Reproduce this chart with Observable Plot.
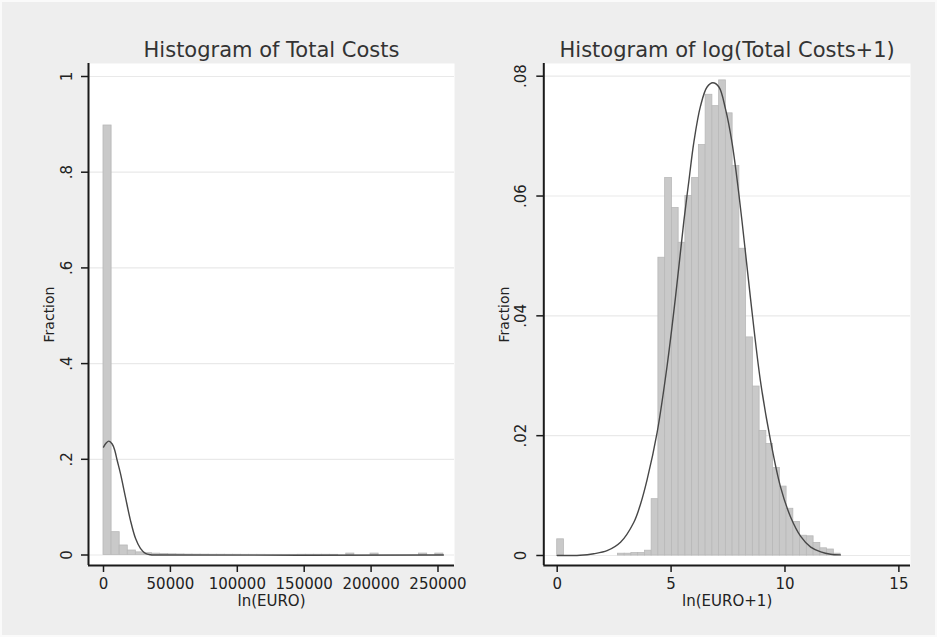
<!DOCTYPE html>
<html><head><meta charset="utf-8">
<script src="https://cdn.jsdelivr.net/npm/d3@7"></script>
<script src="https://cdn.jsdelivr.net/npm/@observablehq/plot@0.6"></script>
<style>
html,body{margin:0;padding:0;background:#fff;}
#wrap{position:relative;width:937px;height:637px;background:#eeeeee;box-shadow:inset 0 0 0 2px #fafafa;overflow:hidden;}
#wrap svg{position:absolute;top:0;}
</style></head><body><div id="wrap"></div>
<script>
// ---------- data ----------
const leftTitle = "Histogram of Total Costs";
const rightTitle = "Histogram of log(Total Costs+1)";
const leftXLabel = "ln(EURO)";
const rightXLabel = "ln(EURO+1)";
const yLabel = "Fraction";

const leftBinWidth = 6048;
const leftFraction = [0.8976, 0.0477, 0.0199, 0.0094, 0.0055, 0.0038, 0.0028, 0.0020, 0.0015, 0.0012,
  0.0009, 0.0008, 0.0007, 0.0006, 0.0006, 0.0005, 0.0005, 0.0004, 0.0004, 0.0004,
  0.0003, 0.0003, 0.0003, 0.0003, 0.0005, 0.0005, 0.0005, 0.0005, 0.0004, 0,
  0.003, 0, 0, 0.003, 0, 0, 0, 0, 0, 0.003, 0, 0.003];

const rightBinWidth = 0.2962;
const rightFraction = [0.0027, 0, 0, 0, 0, 0, 0, 0, 0, 0.0003, 0.0003, 0.0004, 0.0004, 0.0008,
  0.0094, 0.0497, 0.0630, 0.0580, 0.0522, 0.0600, 0.0630, 0.0685, 0.0769, 0.0750, 0.0793,
  0.0738, 0.0650, 0.0512, 0.0364, 0.0282, 0.0208, 0.0186, 0.0146, 0.0115, 0.0078, 0.0056,
  0.0033, 0.0032, 0.0021, 0.0012, 0.0010, 0.0003];

const leftCurveX = [0, 2000, 3960, 6500, 8500, 10200, 12700, 16400, 20100, 23900, 27600, 31300, 35000, 40000, 254000];
const leftCurveY = [0.2256, 0.234, 0.238, 0.232, 0.218, 0.198, 0.170, 0.121, 0.073, 0.035, 0.014, 0.0035, 0.0005, 0, 0];

const rightCurveX = [0, 1.0, 1.61, 2.19, 2.78, 3.36, 3.66, 3.95, 4.39, 4.83, 5.19, 5.56, 5.78, 6.0, 6.29, 6.58, 6.83,
  7.1, 7.39, 7.68, 7.97, 8.27, 8.49, 8.92, 9.36, 9.8, 10.25, 10.69, 11.13, 11.57, 12.0, 12.43];
const rightCurveY = [0, 0.00005, 0.0003, 0.0008, 0.0022, 0.0055, 0.0086, 0.0127, 0.0206, 0.0318, 0.0430, 0.0558, 0.0625,
  0.0690, 0.0750, 0.0782, 0.0789, 0.0782, 0.0745, 0.0688, 0.0605, 0.0504, 0.0428, 0.0292, 0.0193, 0.0115, 0.0064,
  0.0032, 0.0014, 0.0006, 0.0002, 0.0001];

const leftXTicks = [0, 50000, 100000, 150000, 200000, 250000];
const leftYTicks = [0, 0.2, 0.4, 0.6, 0.8, 1];
const leftYTickLabels = ["0", ".2", ".4", ".6", ".8", "1"];
const rightXTicks = [0, 5, 10, 15];
const rightYTicks = [0, 0.02, 0.04, 0.06, 0.08];
const rightYTickLabels = ["0", ".02", ".04", ".06", ".08"];

// ---------- drawing ----------
const FONT = "DejaVu Sans, Verdana, sans-serif";
const INK = "#222";

function panel(o) {
  const bars = o.bins.map((f, i) => ({x1: i * o.binWidth, x2: (i + 1) * o.binWidth, y: f}));
  const curve = o.curveX.map((x, i) => ({x, y: o.curveY[i]}));
  return Plot.plot({
    width: o.width, height: 637,
    marginLeft: o.marginLeft, marginRight: o.marginRight, marginTop: 63, marginBottom: 72,
    x: {domain: o.xDomain}, y: {domain: o.yDomain},
    style: {fontFamily: FONT, fontSize: "15px", background: "transparent", color: INK, overflow: "visible"},
    marks: [
      Plot.frame({fill: "white", stroke: null}),
      Plot.gridY(o.yTicks, {stroke: "#e9e9e9", strokeOpacity: 1, strokeWidth: 1.2}),
      Plot.rectY(bars, {x1: "x1", x2: "x2", y: "y", fill: "#c9c9c9", stroke: "#b8b8b8", strokeWidth: 0.8}),
      Plot.line(curve, {x: "x", y: "y", stroke: "#474747", strokeWidth: 1.4, curve: "catmull-rom"}),
      Plot.ruleX([o.xDomain[0]], {y1: o.yDomain[0], y2: o.yDomain[1], stroke: "#1a1a1a", strokeWidth: 2}),
      Plot.ruleY([o.yDomain[0]], {x1: o.xDomain[0], x2: o.xDomain[1], stroke: "#1a1a1a", strokeWidth: 2}),
      Plot.axisX(o.xTicks, {tickSize: 7, tickPadding: 6, tickFormat: d => String(d), label: null,
        fontSize: 15, strokeWidth: 1.5, stroke: "#1a1a1a", fill: INK}),
      Plot.axisY(o.yTicks, {tickSize: 7, tickFormat: () => "", label: null, strokeWidth: 1.5, stroke: "#1a1a1a"}),
      Plot.text(o.yTicks, {y: d => d, text: (d, i) => o.yTickLabels[i], frameAnchor: "left", dx: o.yLabelDx,
        rotate: -90, lineAnchor: "bottom", textAnchor: "middle", fontSize: 15, fill: INK}),
      Plot.text([yLabel], {text: d => d, frameAnchor: "left", dx: -35, rotate: -90, lineAnchor: "bottom",
        textAnchor: "middle", fontSize: 14, fill: INK}),
      Plot.text([o.title], {text: d => d, frameAnchor: "top", dy: -7, lineAnchor: "bottom", fontSize: 21, fill: "#333"}),
      Plot.text([o.xLabel], {text: d => d, frameAnchor: "bottom", dy: 40, lineAnchor: "bottom", fontSize: 15, fill: INK})
    ]
  });
}

const wrap = document.getElementById("wrap");

const left = panel({
  width: 468, marginLeft: 88, marginRight: 14,
  xDomain: [-11211, 262337], yDomain: [-0.02194, 1.02717],
  bins: leftFraction, binWidth: leftBinWidth,
  curveX: leftCurveX, curveY: leftCurveY,
  xTicks: leftXTicks, yTicks: leftYTicks, yTickLabels: leftYTickLabels,
  yLabelDx: -16.5, title: leftTitle, xLabel: leftXLabel
});
left.style.left = "0px";
wrap.appendChild(left);

const right = panel({
  width: 469, marginLeft: 75.3, marginRight: 27,
  xDomain: [-0.588, 15.51], yDomain: [-0.00167, 0.08212],
  bins: rightFraction, binWidth: rightBinWidth,
  curveX: rightCurveX, curveY: rightCurveY,
  xTicks: rightXTicks, yTicks: rightYTicks, yTickLabels: rightYTickLabels,
  yLabelDx: -18, title: rightTitle, xLabel: rightXLabel
});
right.style.left = "468px";
wrap.appendChild(right);
</script>
</body></html>
